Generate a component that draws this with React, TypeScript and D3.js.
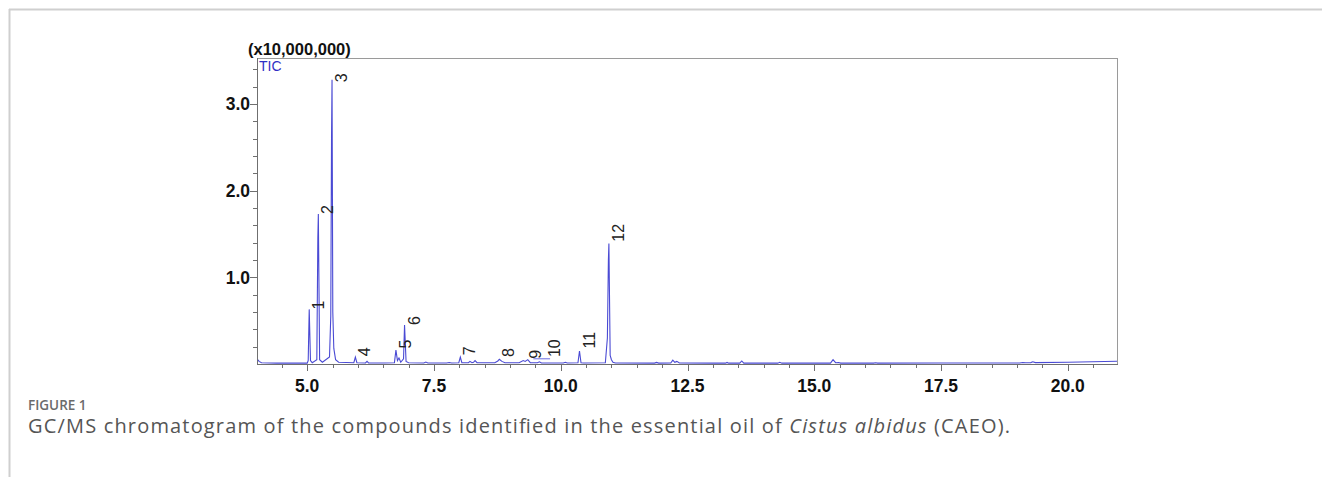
import React from "react";
import * as d3 from "d3";

// Retention time (min) / intensity (x10,000,000)
const traceTimes = [
  4.03, 4.05, 4.1, 4.4, 4.8, 5.0,
  5.02, 5.04, 5.065, 5.1,
  5.19, 5.21, 5.22, 5.245, 5.3,
  5.44, 5.465, 5.48, 5.49, 5.505, 5.525, 5.56, 5.62,
  5.92, 5.95, 5.98,
  6.15, 6.18, 6.21,
  6.5, 6.72, 6.75, 6.78, 6.81, 6.845, 6.9, 6.92, 6.95, 7.0,
  7.3, 7.34, 7.38, 7.75, 7.8, 7.85,
  7.99, 8.02, 8.05, 8.18, 8.21, 8.25, 8.28, 8.31, 8.35,
  8.7, 8.76, 8.79, 8.84, 8.9,
  9.18, 9.26, 9.3, 9.35, 9.4, 9.54, 9.58, 9.62,
  10.05, 10.09, 10.13,
  10.34, 10.37, 10.4, 10.45,
  10.88, 10.92, 10.94, 10.95, 10.975, 11.0, 11.03, 11.08,
  11.85, 11.89, 11.93,
  12.17, 12.21, 12.25, 12.29, 12.34,
  13.0, 13.25, 13.28, 13.31, 13.53, 13.57, 13.61,
  14.28, 14.32, 14.36,
  15.32, 15.37, 15.42, 15.48, 15.52,
  16.17, 16.21, 16.25,
  17.5, 19.05, 19.11, 19.17, 19.27, 19.31, 19.36, 20.0, 20.97,
];
const traceValues = [
  0.05, 0.03, 0.015, 0.01, 0.012, 0.01,
  0.04, 0.63, 0.04, 0.015,
  0.05, 1.45, 1.73, 0.05, 0.02,
  0.08, 0.55, 2.6, 3.28, 0.6, 0.18, 0.05, 0.02,
  0.015, 0.08, 0.015,
  0.012, 0.03, 0.012,
  0.012, 0.015, 0.16, 0.04, 0.07, 0.02, 0.06, 0.45, 0.03, 0.015,
  0.012, 0.022, 0.012, 0.012, 0.018, 0.012,
  0.015, 0.08, 0.015, 0.015, 0.03, 0.015, 0.02, 0.04, 0.015,
  0.015, 0.035, 0.055, 0.03, 0.015,
  0.015, 0.04, 0.03, 0.05, 0.015, 0.015, 0.025, 0.012,
  0.012, 0.02, 0.012,
  0.015, 0.15, 0.015, 0.012,
  0.015, 0.3, 1.2, 1.39, 0.1, 0.05, 0.02, 0.012,
  0.01, 0.018, 0.01,
  0.012, 0.045, 0.02, 0.03, 0.012,
  0.01, 0.01, 0.018, 0.01, 0.01, 0.035, 0.01,
  0.01, 0.02, 0.01,
  0.01, 0.05, 0.015, 0.018, 0.01,
  0.01, 0.015, 0.01,
  0.012, 0.012, 0.018, 0.014, 0.016, 0.025, 0.016, 0.02, 0.032,
];

// Peak annotations: compound number, retention time, label base intensity
const peakNumbers = ["1", "2", "3", "4", "5", "6", "7", "8", "9", "10", "11", "12"];
const peakTimes = [5.04, 5.22, 5.49, 5.95, 6.75, 6.92, 8.02, 8.79, 9.31, 9.68, 10.38, 10.95];
const peakLabelValues = [0.63, 1.73, 3.25, 0.09, 0.18, 0.45, 0.1, 0.08, 0.06, 0.08, 0.18, 1.41];

// short marker segment near peak 10
const markerTimes = [9.46, 9.79];
const markerValue = 0.06;

const xMajorTicks = [5.0, 7.5, 10.0, 12.5, 15.0, 17.5, 20.0];
const xMinorTicks = d3.range(4.5, 20.97, 0.5);
const yMajorTicks = [1.0, 2.0, 3.0];
const yMinorTicks = d3.range(0.2, 3.53, 0.2);

export default function App() {
  const left = 258, right = 1117, top = 58, bottom = 364;
  const x = d3.scaleLinear().domain([4.03, 20.97]).range([left, right]);
  const y = d3.scaleLinear().domain([0, 3.53]).range([bottom, top]);
  const pts: [number, number][] = traceTimes.map((t, i) => [t, traceValues[i]]);
  const line = d3.line<[number, number]>().x((d) => x(d[0])).y((d) => y(d[1]));
  const isMajor = (v: number) => xMajorTicks.some((m) => Math.abs(m - v) < 1e-6);
  const isMajorY = (v: number) => yMajorTicks.some((m) => Math.abs(m - v) < 1e-6);
  const tickFont = "'Liberation Sans', Arial, sans-serif";

  return (
    <svg width={1322} height={477} style={{ position: "absolute", left: 0, top: 0, background: "#fff" }}>
      {/* page frame */}
      <line x1={9} x2={1322} y1={9.5} y2={9.5} stroke="#cfcfcf" strokeWidth={2} />
      <line x1={9.5} x2={9.5} y1={9} y2={477} stroke="#cfcfcf" strokeWidth={2} />

      {/* plot frame */}
      <line x1={left} x2={right} y1={top + 0.5} y2={top + 0.5} stroke="#9a9a9a" />
      <line x1={right + 0.5} x2={right + 0.5} y1={top} y2={bottom} stroke="#9a9a9a" />
      <line x1={left - 0.5} x2={left - 0.5} y1={top} y2={bottom + 1} stroke="#6f6f6f" />
      <line x1={left - 0.5} x2={right + 1} y1={bottom + 0.5} y2={bottom + 0.5} stroke="#6f6f6f" />

      {/* x ticks */}
      {xMinorTicks.map((v, i) => (
        <line key={"xm" + i} x1={Math.round(x(v)) + 0.5} x2={Math.round(x(v)) + 0.5} y1={bottom} y2={bottom + (isMajor(v) ? 7 : 4)} stroke="#6f6f6f" />
      ))}
      {xMajorTicks.map((v) => (
        <text key={"xl" + v} x={x(v)} y={392} textAnchor="middle" fontFamily={tickFont} fontWeight="bold" fontSize={17.5} fill="#111">
          {v.toFixed(1)}
        </text>
      ))}

      {/* y ticks */}
      {yMinorTicks.map((v, i) => (
        <line key={"ym" + i} x1={left - (isMajorY(v) ? 8 : 5)} x2={left} y1={Math.round(y(v)) + 0.5} y2={Math.round(y(v)) + 0.5} stroke="#6f6f6f" />
      ))}
      {yMajorTicks.map((v) => (
        <text key={"yl" + v} x={250} y={y(v) + 6.5} textAnchor="end" fontFamily={tickFont} fontWeight="bold" fontSize={17.5} fill="#111">
          {v.toFixed(1)}
        </text>
      ))}

      <text x={248} y={55} fontFamily={tickFont} fontWeight="bold" fontSize={16.5} fill="#111">
        (x10,000,000)
      </text>
      <text x={259} y={71} fontFamily={tickFont} fontSize={14} fill="#2f2fc4">
        TIC
      </text>

      {/* trace */}
      <path d={line(pts) || ""} fill="none" stroke="#4a4ad4" strokeWidth={1.1} />
      <line x1={x(markerTimes[0])} x2={x(markerTimes[1])} y1={y(markerValue)} y2={y(markerValue)} stroke="#6a6ae0" strokeWidth={1} />

      {/* peak labels */}
      {peakNumbers.map((n, i) => {
        const px = x(peakTimes[i]) + 15;
        const py = y(peakLabelValues[i]);
        return (
          <text key={"p" + n} transform={`translate(${px},${py}) rotate(-90)`} fontFamily={tickFont} fontSize={16} fill="#222">
            {n}
          </text>
        );
      })}

      {/* caption */}
      <text x={28} y={410} fontFamily="'Open Sans', sans-serif" fontSize={13.5} fill="#6b6b6b" fontWeight={600}>
        FIGURE 1
      </text>
      <text x={28} y={433} fontFamily="'Open Sans', sans-serif" fontSize={20} fill="#555" textLength={982} lengthAdjust="spacing">
        GC/MS chromatogram of the compounds identified in the essential oil of <tspan fontStyle="italic">Cistus albidus</tspan> (CAEO).
      </text>
    </svg>
  );
}
